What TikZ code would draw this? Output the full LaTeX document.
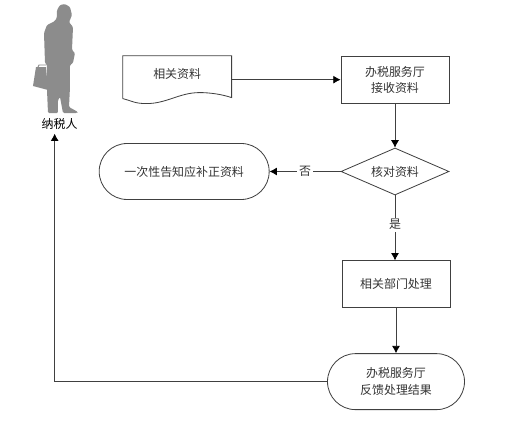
\documentclass[tikz,border=0pt]{standalone}
\usepackage{fontspec}
\setmainfont{Noto Sans CJK SC}
\usepackage{xcolor}
\usetikzlibrary{arrows.meta,positioning,shapes.geometric,shapes.misc}
\definecolor{xline}{HTML}{404040}
\definecolor{xtext}{HTML}{333333}
\definecolor{xfigure}{HTML}{8C8C8C}
\begin{document}
\begin{tikzpicture}[
    >={Latex[length=0.22cm,width=0.24cm,color=black]},
    box/.style={rectangle, draw=xline, line width=0.7pt, minimum width=3.24cm, minimum height=1.41cm, font=\fontsize{10.2}{14}\selectfont, text=xtext, align=center, inner sep=0pt},
    choice/.style={box, diamond, aspect=2.3},
    terminal/.style={box, rounded rectangle},
    pipe/.style={->, line width=0.7pt, color=xline},
    label/.style={font=\fontsize{10.2}{14}\selectfont, text=xtext, fill=white, inner sep=1.5pt},
]
\useasboundingbox (0,0) rectangle (15.84,-12.63);

% --- Main column ---
\node[box] (recv) at (11.85,-2.39) {办税服务厅\\接收资料};
\node[choice, below=1.32cm of recv] (check) {核对资料};
\node[box, below=1.95cm of check, xshift=0.03cm] (proc) {相关部门处理};
\node[terminal, below=1.35cm of proc, minimum width=4.11cm, minimum height=1.68cm] (reply) {办税服务厅\\反馈处理结果};

% --- Left side ---
\node[box, draw=none, left=3.27cm of recv] (docs) {};
\node[font=\fontsize{10.2}{14}\selectfont, text=xtext, yshift=0.17cm] (docstext) at (docs) {相关资料};
\node[terminal, left=2.13cm of check, minimum width=5.1cm, minimum height=1.68cm] (redo) {一次性告知应补正资料};
\node[font=\fontsize{10.2}{14}\selectfont, text=black] (payer) at (1.79,-3.72) {纳税人};

% --- Document outline ---
\draw[xline, line width=0.7pt] ([yshift=0.15cm]docs.south west) -- (docs.north west) -- (docs.north east) -- ([yshift=0.18cm]docs.south east)
    .. controls +(-0.3,0.1) and +(0.3,0) .. ([xshift=-0.96cm,yshift=0.33cm]docs.south east)
    .. controls +(-0.6,0) and +(0.6,0) .. ([xshift=-2.55cm]docs.south east)
    .. controls +(-0.35,0) and +(0.3,-0.08) .. ([yshift=0.15cm]docs.south west);

% --- Person ---
\begin{scope}[x=0.03cm,y=-0.03cm]
\fill[xfigure, rounded corners=1pt] (57,10) -- (60,5) -- (65,4) -- (70,7) -- (72,15) -- (70,20) -- (69,22) -- (73,27) -- (72,50)
    -- (75,53) -- (73,63) -- (70,65) -- (70,87) -- (69,107) -- (78,112) -- (77,113) -- (63,113) -- (60,97) -- (58,100)
    -- (58,113) -- (48,113) -- (47,90) -- (47,65) -- (45,63) -- (44,33) -- (47,25) -- (55,21) -- (57,17) -- cycle;
\fill[xfigure] (36,67) -- (46,67) -- (48,90) -- (33,86) -- cycle;
\draw[xfigure, line width=0.8pt] (38,67) -- (39,65) -- (46,65);
\end{scope}

% --- Arrows ---
\draw[pipe] (docs.east) -- (recv.west);
\draw[pipe] (recv.south) -- (check.north);
\draw[pipe] (check.west) -- node[label] {否} (redo.east);
\draw[pipe] (check.south) -- node[label, pos=0.45] {是} (check.south |- proc.north);
\draw[pipe] (proc.south) -- (reply.north);
\draw[pipe] (reply.west) -| ([xshift=-0.15cm]payer.south);

\end{tikzpicture}
\end{document}
